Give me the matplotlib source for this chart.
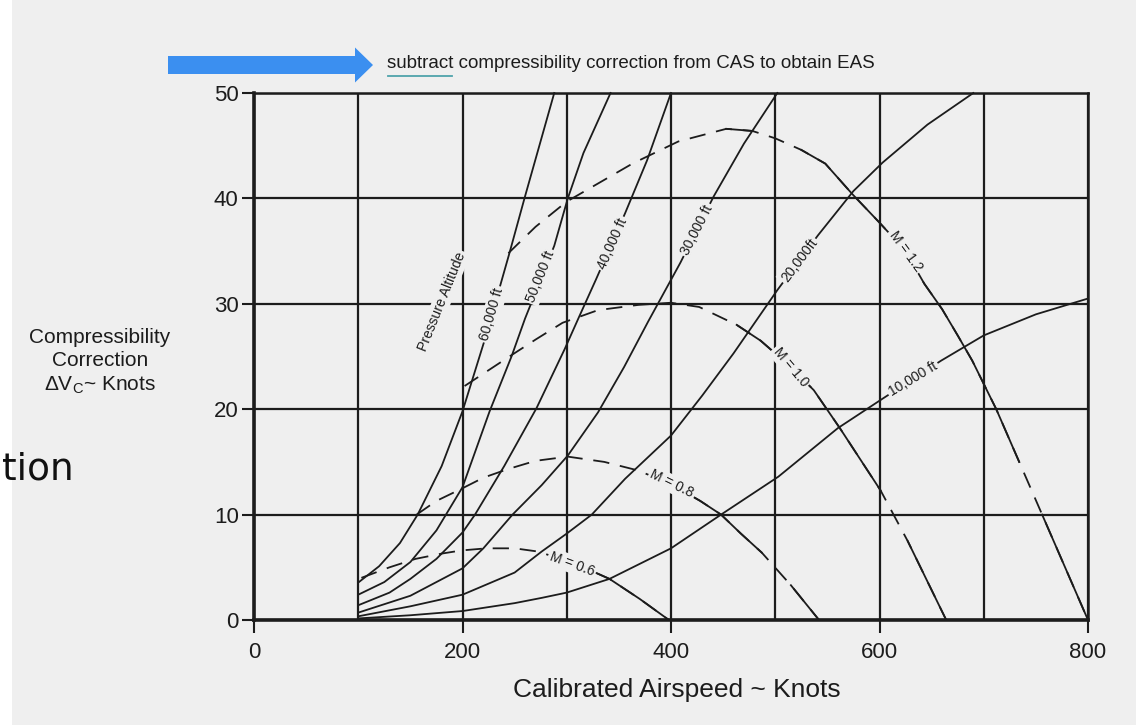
import matplotlib.pyplot as plt
from matplotlib.patches import FancyArrow, Rectangle
from matplotlib.lines import Line2D

plt.rcParams['font.family'] = ['Liberation Sans Narrow', 'Liberation Sans', 'DejaVu Sans']

# --- pressure altitude curves (CAS kt, correction kt) ---
alt_60k_x = [100, 120, 140, 157, 180, 200, 222, 245, 260, 288]
alt_60k_y = [3.55, 5.1, 7.3, 10.0, 14.6, 19.8, 26.8, 34.8, 40.2, 50.0]
alt_50k_x = [100, 125, 150, 175, 200, 226, 247, 260, 288, 301, 316, 342]
alt_50k_y = [2.4, 3.6, 5.5, 8.5, 12.6, 19.8, 25.0, 28.6, 35.5, 40.0, 44.3, 50.0]
alt_40k_x = [100, 130, 150, 175, 200, 212, 240, 271, 298, 312, 328, 356, 377, 400]
alt_40k_y = [1.4, 2.6, 3.9, 5.8, 8.3, 10.0, 14.6, 20.1, 25.7, 28.8, 32.3, 38.6, 43.6, 50.0]
alt_30k_x = [100, 150, 200, 220, 248, 276, 301, 330, 355, 378, 409, 441, 470, 502]
alt_30k_y = [0.7, 2.3, 4.9, 6.8, 10.0, 12.8, 15.6, 19.7, 24.0, 28.3, 33.9, 40.2, 45.2, 50.0]
alt_20k_x = [100, 150, 200, 250, 276, 300, 324, 356, 400, 430, 460, 502, 541, 575, 603, 646, 690]
alt_20k_y = [0.35, 1.3, 2.4, 4.5, 6.5, 8.2, 10.0, 13.4, 17.5, 21.3, 25.3, 31.3, 36.5, 40.7, 43.4, 47.0, 50.0]
alt_10k_x = [100, 150, 200, 250, 276, 300, 341, 400, 448, 503, 560, 603, 659, 700, 750, 800]
alt_10k_y = [0.15, 0.45, 0.85, 1.6, 2.1, 2.6, 3.9, 6.8, 10.0, 13.6, 18.2, 21.0, 24.6, 27.0, 29.0, 30.5]

# --- constant Mach lines ---
m06_x = [103, 130, 155, 180, 199, 223, 250, 272, 307, 341, 370, 398]
m06_y = [4.0, 5.0, 5.8, 6.3, 6.6, 6.8, 6.8, 6.5, 5.4, 3.9, 2.0, 0.0]
m08_x = [156, 175, 198, 220, 243, 270, 301, 336, 368, 400, 428, 448, 467, 487, 515, 542]
m08_y = [10.0, 11.3, 12.4, 13.5, 14.3, 15.1, 15.5, 15.0, 14.2, 12.9, 11.3, 10.0, 8.2, 6.4, 3.3, 0.0]
m10_x = [202, 245, 270, 296, 330, 369, 400, 427, 463, 486, 515, 537, 562, 601, 627, 664]
m10_y = [22.2, 25.0, 26.6, 28.2, 29.4, 29.9, 30.1, 29.7, 28.0, 26.5, 24.0, 21.8, 18.2, 12.3, 7.5, 0.0]
m12_x = [244, 270, 300, 335, 363, 407, 453, 478, 500, 525, 548, 574, 600, 625, 643, 660, 675, 689, 712, 734, 756, 778, 800]
m12_y = [34.8, 37.3, 39.7, 41.7, 43.3, 45.4, 46.6, 46.4, 45.7, 44.6, 43.3, 40.4, 37.7, 35.0, 31.9, 29.5, 27.0, 24.6, 20.0, 15.0, 10.0, 5.0, 0.0]

x_ticks = [0, 200, 400, 600, 800]
x_grid = [100, 300, 500, 700]
y_ticks = [0, 10, 20, 30, 40, 50]

BG = '#efefef'
INK = '#1c1c1c'

fig = plt.figure(figsize=(11.36, 7.25), dpi=100, facecolor=BG)
fig.patches.append(Rectangle((0, 0), 12 / 1136, 1, transform=fig.transFigure,
                             facecolor='white', edgecolor='none'))

ax = fig.add_axes([254 / 1136, 1 - 620 / 725, (1088 - 254) / 1136, (620 - 93) / 725])
ax.set_facecolor(BG)
ax.set_xlim(0, 800)
ax.set_ylim(0, 50)
ax.set_xticks(x_ticks)
ax.set_xticks(x_grid, minor=True)
ax.set_yticks(y_ticks)
ax.set_axisbelow(True)
ax.grid(which='both', color=INK, lw=1.6)
ax.tick_params(which='major', length=9, width=1.5, color=INK, labelsize=16,
               labelcolor=INK)
ax.tick_params(axis='x', pad=7)
ax.tick_params(axis='y', pad=2)
ax.tick_params(which='minor', length=0)
for side in ['top', 'right']:
    ax.spines[side].set_linewidth(1.8)
for side in ['left', 'bottom']:
    ax.spines[side].set_linewidth(2.6)
for sp in ax.spines.values():
    sp.set_color(INK)

# altitude lines (solid)
curves = [(alt_60k_x, alt_60k_y), (alt_50k_x, alt_50k_y), (alt_40k_x, alt_40k_y),
          (alt_30k_x, alt_30k_y), (alt_20k_x, alt_20k_y), (alt_10k_x, alt_10k_y)]
for cx, cy in curves:
    ax.plot(cx, cy, color=INK, lw=1.3, zorder=3, clip_on=False)


# mach lines: dashed on the rising part, solid where the chart draws them solid
def mach_line(mx, my, solid_ranges):
    ax.plot(mx, my, color=INK, lw=1.3, ls=(0, (9, 6)), zorder=3)
    for lo, hi in solid_ranges:
        sx = [v for v in mx if lo <= v <= hi]
        sy = [my[i] for i, v in enumerate(mx) if lo <= v <= hi]
        ax.plot(sx, sy, color=INK, lw=1.3, zorder=3)


mach_line(m06_x, m06_y, [(300, 400)])
mach_line(m08_x, m08_y, [(390, 487), (515, 542)])
mach_line(m10_x, m10_y, [(463, 601), (627, 664)])
mach_line(m12_x, m12_y, [(453, 478), (525, 734), (756, 800)])

lbl = dict(ha='center', va='center', rotation_mode='anchor', fontsize=10, color=INK,
           zorder=5, bbox=dict(boxstyle='square,pad=0.15', fc=BG, ec='none'))
ax.text(180, 30.2, 'Pressure Altitude', rotation=68, **lbl)
ax.text(228, 29.0, '60,000 ft', rotation=74, **lbl)
ax.text(275, 32.6, '50,000 ft', rotation=68, **lbl)
ax.text(344, 35.7, '40,000 ft', rotation=66, **lbl)
ax.text(425, 37.0, '30,000 ft', rotation=63, **lbl)
ax.text(523, 34.1, '20,000ft', rotation=53, **lbl)
ax.text(632, 22.9, '10,000 ft', rotation=31, **lbl)
ax.text(625, 35.0, 'M = 1.2', rotation=-54, **lbl)
ax.text(515, 24.0, 'M = 1.0', rotation=-50, **lbl)
ax.text(401, 12.9, 'M = 0.8', rotation=-26, **lbl)
ax.text(305, 5.3, 'M = 0.6', rotation=-20, **lbl)

fig.text(677 / 1136, 1 - 690 / 725, 'Calibrated Airspeed ~ Knots', ha='center', va='center',
         fontsize=19, color=INK)
fig.text(100 / 1136, 1 - 362 / 725, 'Compressibility\nCorrection\n\u0394V$\\mathregular{_C}$~ Knots',
         ha='center', va='center', fontsize=15, color=INK, linespacing=1.3)

# header: arrow + note
fig.patches.append(FancyArrow(168 / 1136, 1 - 65 / 725, 187 / 1136, 0, width=18 / 725,
                              head_width=35 / 725, head_length=18 / 1136,
                              length_includes_head=False, transform=fig.transFigure,
                              color='#3b8ff0', lw=0))
fig.text(387 / 1136, 1 - 64 / 725, 'subtract compressibility correction from CAS to obtain EAS',
         ha='left', va='center', fontsize=13.5, color=INK)
fig.add_artist(Line2D([388 / 1136, 452 / 1136], [1 - 76 / 725, 1 - 76 / 725],
                      transform=fig.transFigure, color='#4fa3ab', lw=1.3))

fig.text(2 / 1136, 1 - 480 / 725, 'tion', ha='left', va='baseline', fontsize=27,
         color='#111111', family='DejaVu Sans')

fig.savefig('out.png', dpi=100, facecolor=BG)
